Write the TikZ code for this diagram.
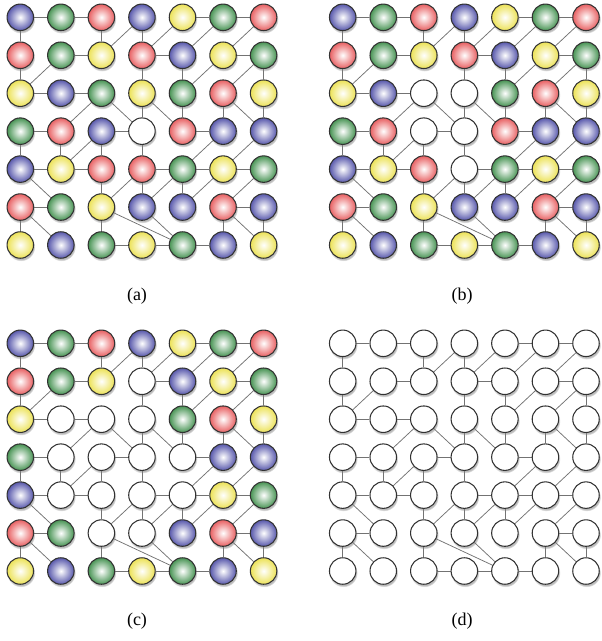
\documentclass[tikz,border=0pt]{standalone}
\usepackage{fontspec}
\setmainfont{Liberation Serif}
\usetikzlibrary{shadows,backgrounds}
\definecolor{cB}{RGB}{88,88,172}
\definecolor{cG}{RGB}{72,148,84}
\definecolor{cR}{RGB}{232,96,98}
\definecolor{cY}{RGB}{236,226,86}
\definecolor{cEdge}{RGB}{115,115,115}
\definecolor{cRim}{RGB}{50,50,50}
\tikzset{
  ballbase/.style={circle, minimum size=26.5pt, inner sep=0pt, draw=cRim, line width=1.05pt,
    circular drop shadow={shadow xshift=0.6pt, shadow yshift=-1.8pt, shadow scale=1.08, opacity=0.55}},
  ballB/.style={ballbase, shading=radial, inner color=white, outer color=cB},
  ballG/.style={ballbase, shading=radial, inner color=white, outer color=cG},
  ballR/.style={ballbase, shading=radial, inner color=white, outer color=cR},
  ballY/.style={ballbase, shading=radial, inner color=white, outer color=cY},
  ballW/.style={ballbase, fill=white},
  edge/.style={draw=cEdge, line width=0.75pt},
  caption/.style={font=\fontsize{18}{20}\selectfont, inner sep=0pt}
}
\newcommand\drawpanel[4]{%
  \foreach \k [count=\i from 0] in {#4} {
    \pgfmathtruncatemacro\rr{\i/7}
    \pgfmathtruncatemacro\cc{\i-7*\rr}
    \node[ball\k] (#1\rr\cc) at ({#2+40.55*\cc},{#3+37.95*\rr}) {};
  }%
}
\newcommand\drawedges[1]{%
  \foreach \u/\v in {00/01,01/02,04/05,05/06,
    11/12,13/14,15/16, 20/21,21/22, 30/31,32/33,34/35,
    40/41,41/42,43/44,44/45,45/46, 50/51,55/56, 62/63,63/64,64/65,
    00/10,02/12,03/13, 10/20,13/23,14/24,16/26, 23/33,24/34,25/35,26/36,
    30/40,31/41,32/42,33/43, 42/52,43/53,44/54, 50/60,52/62,55/65,56/66,
    12/03,13/04,14/05,15/06, 20/11,24/15,25/16, 31/22,22/33,23/34,25/36,
    41/32,44/35,45/36, 40/51,52/43,53/44,54/45,55/46, 50/61,52/64,53/64,55/66}
  {\draw[edge] (#1\u) -- (#1\v);}%
}
\begin{document}
\begin{tikzpicture}[x=1pt,y=-1pt]
\useasboundingbox (0,0) rectangle (602,641);
\drawpanel{a}{20.3}{17.3}{B,G,R,B,Y,G,R, R,G,Y,R,B,Y,G, Y,B,G,Y,G,R,Y, G,R,B,W,R,B,B, B,Y,R,R,G,Y,G, R,G,Y,B,B,R,B, Y,B,G,Y,G,B,Y}
\drawpanel{b}{342.7}{17.3}{B,G,R,B,Y,G,R, R,G,Y,R,B,Y,G, Y,B,W,W,G,R,Y, G,R,W,W,R,B,B, B,Y,R,W,G,Y,G, R,G,Y,B,B,R,B, Y,B,G,Y,G,B,Y}
\drawpanel{c}{20.3}{343.3}{B,G,R,B,Y,G,R, R,G,Y,W,B,Y,G, Y,W,W,W,G,R,Y, G,W,W,W,W,B,B, B,W,W,W,W,Y,G, R,G,W,W,B,R,B, Y,B,G,Y,G,B,Y}
\drawpanel{d}{342.7}{343.3}{W,W,W,W,W,W,W, W,W,W,W,W,W,W, W,W,W,W,W,W,W, W,W,W,W,W,W,W, W,W,W,W,W,W,W, W,W,W,W,W,W,W, W,W,W,W,W,W,W}
\begin{pgfonlayer}{background}
\drawedges{a}
\drawedges{b}
\drawedges{c}
\drawedges{d}
\end{pgfonlayer}
\node[caption] (capa) at (137,296) {(a)};
\node[caption] (capb) at (462,296) {(b)};
\node[caption] (capc) at (137,621) {(c)};
\node[caption] (capd) at (462,621) {(d)};
\end{tikzpicture}
\end{document}
